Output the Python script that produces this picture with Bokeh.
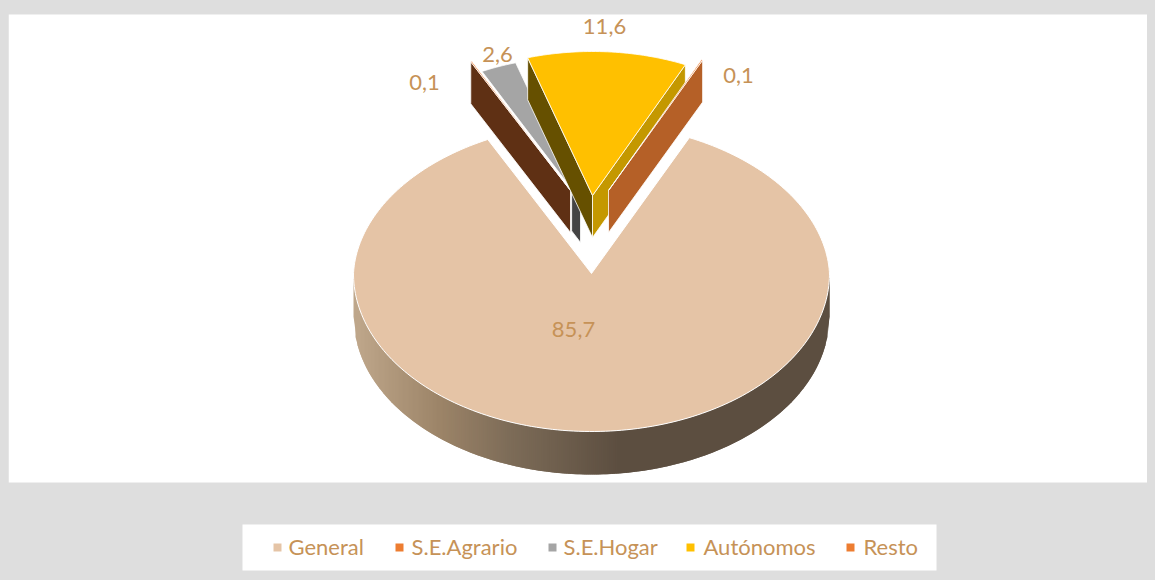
import math
from bokeh.plotting import figure
from bokeh.embed import file_html
from bokeh.resources import INLINE
from bokeh.core.properties import value

categories = ["General", "S.E.Agrario", "S.E.Hogar", "Autónomos", "Resto"]
values = [85.7, 0.1, 2.6, 11.6, 0.1]
labels = ["85,7", "0,1", "2,6", "11,6", "0,1"]
top_colors = ["#E5C4A6", "#ED7D31", "#A5A5A5", "#FFC000", "#ED7D31"]

BG = "#DEDEDE"
TXT = "#C69257"
FONT = "Lato"
X0, X1, Y0, Y1 = 8, 1147, 8, 572   # page pixel frame
p = figure(width=X1 - X0, height=Y1 - Y0, x_range=(X0, X1), y_range=(Y1, Y0),
           output_backend="svg", toolbar_location=None, x_axis_type=None, y_axis_type=None,
           background_fill_color=BG, border_fill_color=BG, outline_line_color=None,
           min_border=0)
p.grid.visible = False

# panels
p.quad(left=[X0], right=[X1], top=[14], bottom=[482], fill_color="white", line_color=None)
p.quad(left=[242], right=[936], top=[524], bottom=[570], fill_color="white", line_color=None)

# slice angles (clockwise from 12 o'clock)
total = sum(values)
span = [v / total * 360 for v in values]
start = 180 - span[0] / 2
edges = [start]
for s in span:
    edges.append(edges[-1] + s)

CX, CY, RX, RY_BACK, RY_FRONT, DEPTH = 591, 273, 238, 150, 158, 43
G_ROT, G_FORESHORTEN = -0.8, 8


def gen(a, dy=0):
    r = math.radians(a + G_ROT)
    c = math.cos(r)
    rx = RX - G_FORESHORTEN * max(0.0, c)
    return CX + rx * math.sin(r), CY - (RY_BACK if c > 0 else RY_FRONT) * c + dy


# General: rim wall in vertical strips with horizontal shading
stops = [(353, (192, 168, 140)), (440, (156, 132, 104)), (510, (125, 108, 88)),
         (620, (92, 78, 64)), (829, (92, 78, 64))]


def shade(x):
    for (a, ca), (b, cb) in zip(stops, stops[1:]):
        if x <= b:
            t = (x - a) / (b - a)
            return "#%02x%02x%02x" % tuple(round(u + (v - u) * t) for u, v in zip(ca, cb))
    return "#5c4e40"


xs, ys, cs = [], [], []
STEP = 2
OVER = 2
for i in range(CX - RX, CX + RX, STEP):
    xa, xb = i, min(i + STEP + OVER, CX + RX)
    fa = math.sqrt(max(0, 1 - ((xa - CX) / RX) ** 2)) * RY_FRONT
    fb = math.sqrt(max(0, 1 - ((xb - CX) / RX) ** 2)) * RY_FRONT
    xs.append([xa, xb, xb, xa])
    ys.append([CY + fa, CY + fb, CY + fb + DEPTH, CY + fa + DEPTH])
    cs.append(shade((xa + xb) / 2))
p.patches(xs, ys, fill_color=cs, line_color=None)

# General: top face
n = 240
pts = [gen(edges[0] + (edges[1] - edges[0]) * k / n) for k in range(n + 1)]
p.patch([CX] + [q[0] for q in pts], [CY] + [q[1] for q in pts],
        fill_color=top_colors[0], line_color="white", line_width=1)

# exploded slices
E_RX, E_RY, E_ROT, E_D = 222, 144, -0.8, 42
apex = {1: (570, 190), 2: (580, 200), 3: (592, 195), 4: (608, 190)}


def rim(i, a):
    ax, ay = apex[i]
    r = math.radians(a + E_ROT)
    return ax + E_RX * math.sin(r), ay - E_RY * math.cos(r)


def wall(i, a, color, frac=1.0):
    ax, ay = apex[i]
    ox, oy = rim(i, a)
    ox, oy = ax + (ox - ax) * frac, ay + (oy - ay) * frac
    p.patch([ax, ox, ox, ax], [ay, oy, oy + E_D, ay + E_D],
            fill_color=color, line_color="white", line_width=0.8)


def face(i):
    m = 40
    q = [rim(i, edges[i] + (edges[i + 1] - edges[i]) * k / m) for k in range(m + 1)]
    ax, ay = apex[i]
    p.patch([ax] + [u[0] for u in q], [ay] + [u[1] for u in q],
            fill_color=top_colors[i], line_color="white", line_width=0.8)


wall(2, edges[2], "#444444", frac=0.09)
wall(1, edges[1], "#5F3014")
face(1)
face(2)
wall(3, edges[3], "#665000")
wall(3, edges[4], "#C49800")
face(3)
wall(4, edges[5], "#B56027")
face(4)

# data labels
label_x = [573, 424, 497, 604, 738]
label_y = [329, 82, 54, 26, 75]
p.text(label_x, label_y, text=labels, text_color=TXT, text_font=value(FONT),
       text_font_size="22px", text_align="center", text_baseline="middle")

# legend
marker_x = [277, 399, 552, 690, 850]
text_x = [288, 411, 563, 703, 863]
p.rect(marker_x, [547] * 5, width=8, height=8, fill_color=top_colors, line_color=None)
p.text(text_x, [546] * 5, text=categories, text_color=TXT, text_font=value(FONT),
       text_font_size="22px", text_align="left", text_baseline="middle")

html = file_html(p, INLINE)
html = html.replace("</head>", "<style>html,body{background:%s;overflow:hidden}body{margin:8px !important}</style></head>" % BG, 1)
open("out.html", "w").write(html)
